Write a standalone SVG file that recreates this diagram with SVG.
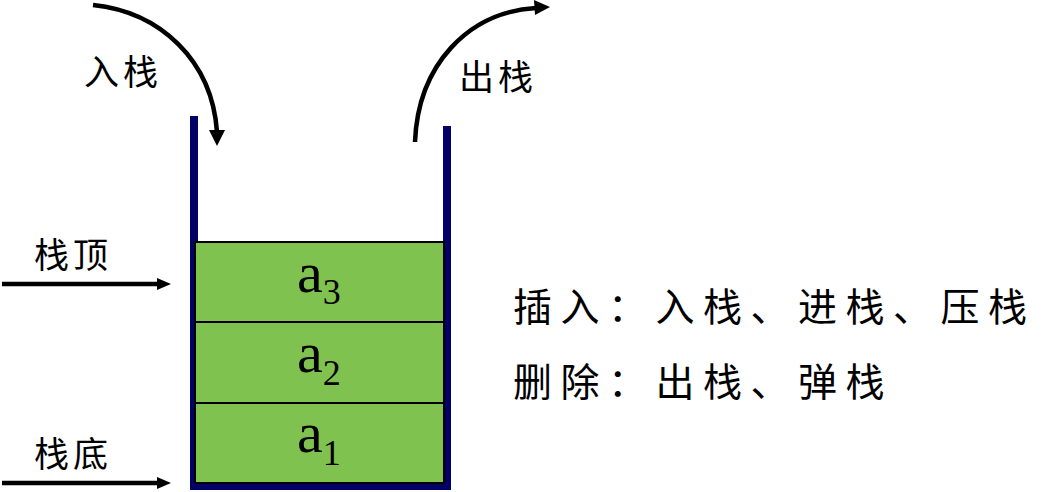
<svg xmlns="http://www.w3.org/2000/svg" width="1042" height="492" viewBox="0 0 1042 492">
<style>
.cn{font-family:"Noto Sans CJK SC","Noto Sans CJK JP",sans-serif;fill:#000}
.lbl{font-size:35px;letter-spacing:4px}
.big{font-size:39px;letter-spacing:8.5px}
.wall{fill:#000066}
.cell{fill:#7FC24F;stroke:#000;stroke-width:2}
.a{font-family:"Liberation Serif","DejaVu Serif",serif;font-size:58px;fill:#000}
.sub{font-size:36px}
.conn{fill:none;stroke:#000;stroke-width:4.5}
.head{fill:#000}
</style>
<g id="stack">
<rect class="wall" x="190" y="116" width="8" height="374"/>
<rect class="wall" x="443" y="126" width="8" height="364"/>
<rect class="wall" x="193" y="483" width="254" height="7"/>
</g>
<g id="a3">
<rect class="cell" x="195" y="242" width="249" height="80"/>
<text class="a" x="297" y="292">a<tspan class="sub" dy="12">3</tspan></text>
</g>
<g id="a2">
<rect class="cell" x="195" y="322" width="249" height="81"/>
<text class="a" x="297" y="372">a<tspan class="sub" dy="13">2</tspan></text>
</g>
<g id="a1">
<rect class="cell" x="195" y="403" width="249" height="80"/>
<text class="a" x="297" y="452">a<tspan class="sub" dy="13">1</tspan></text>
</g>
<g id="labels">
<text class="cn lbl" x="84" y="85">入栈</text>
<text class="cn lbl" x="459" y="90">出栈</text>
<text class="cn lbl" x="34" y="268">栈顶</text>
<text class="cn lbl" x="34" y="467">栈底</text>
</g>
<g id="ops">
<text class="cn big" x="513" y="321">插入：入栈、进栈、压栈</text>
<text class="cn big" x="513" y="396">删除：出栈、弹栈</text>
</g>
<g id="connectors">
<path class="conn" d="M93 5 C160 12 212 60 217 132"/>
<polygon class="head" points="209,130 225,130 217,146"/>
<path class="conn" d="M415 142 C418 65 468 12 536 8"/>
<polygon class="head" points="534,0 550,7 535,15"/>
<line class="conn" x1="2" y1="284" x2="158" y2="284"/>
<polygon class="head" points="157,278 171,284 157,290"/>
<line class="conn" x1="2" y1="483" x2="158" y2="483"/>
<polygon class="head" points="157,477 171,483 157,489"/>
</g>
</svg>
